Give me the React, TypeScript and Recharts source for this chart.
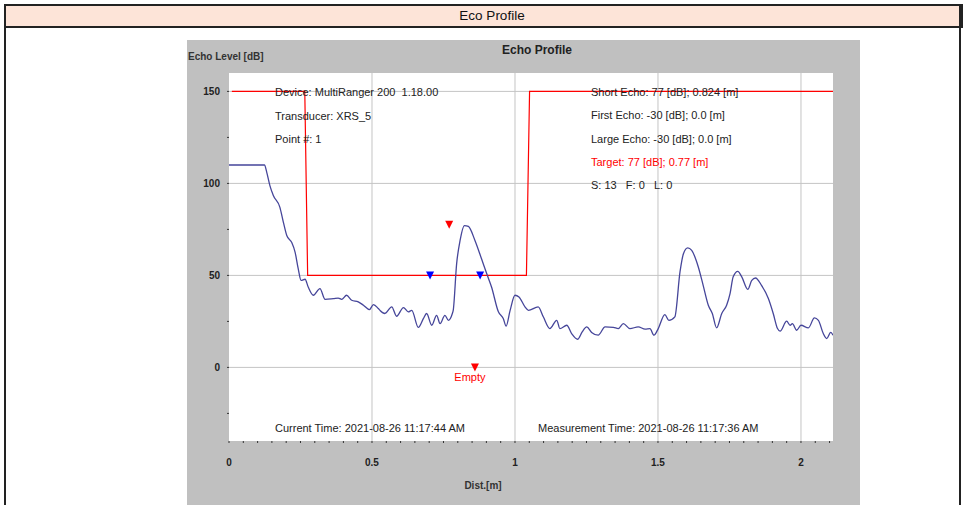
import {
  CartesianGrid,
  ComposedChart,
  Line,
  Scatter,
  XAxis,
  YAxis,
} from "recharts";

const FONT = "'Liberation Sans', Arial, sans-serif";

// echo profile (distance in m, level in dB)
const echoDist = [
  0, 0.124, 0.132, 0.143, 0.155, 0.178, 0.19, 0.202, 0.219, 0.231, 0.242, 0.252,
  0.266, 0.277, 0.295, 0.318, 0.336, 0.365, 0.382, 0.394, 0.411, 0.429, 0.452,
  0.47, 0.491, 0.505, 0.522, 0.528, 0.545, 0.569, 0.586, 0.61, 0.627, 0.639,
  0.662, 0.68, 0.691, 0.709, 0.726, 0.738, 0.755, 0.767, 0.781, 0.784, 0.796,
  0.808, 0.823, 0.837, 0.86, 0.883, 0.901, 0.918, 0.942, 0.959, 0.969, 0.983,
  1.0, 1.014, 1.035, 1.047, 1.081, 1.099, 1.122, 1.146, 1.157, 1.181, 1.198,
  1.219, 1.235, 1.251, 1.268, 1.291, 1.315, 1.344, 1.361, 1.379, 1.402, 1.431,
  1.455, 1.472, 1.486, 1.501, 1.524, 1.538, 1.559, 1.577, 1.589, 1.604, 1.618,
  1.641, 1.658, 1.676, 1.69, 1.705, 1.723, 1.74, 1.752, 1.763, 1.779, 1.793,
  1.814, 1.828, 1.841, 1.862, 1.886, 1.903, 1.918, 1.927, 1.95, 1.962, 1.97,
  1.985, 2.0, 2.026, 2.047, 2.061, 2.078, 2.09, 2.104, 2.112,
];
const echoLevel = [
  110, 110, 106, 98.8, 93.4, 87, 79, 71.7, 68, 62.7, 53.7, 47.3, 47.9, 43.7,
  39.2, 42.8, 37, 37.4, 37.7, 37, 39.2, 36.5, 35.6, 33.8, 31.4, 34.1, 32, 31,
  29.3, 32.9, 27.8, 32.5, 30.2, 31, 21.7, 26.6, 29.3, 22.9, 28.3, 23.8, 28.3,
  25.6, 29.3, 31, 56.4, 69, 77.1, 76.6, 69, 59, 51, 43.7, 30.2, 26.6, 22.4, 31,
  39.2, 38.3, 32.9, 31, 32.9, 27.5, 21.1, 25.6, 21.1, 22.9, 18.4, 15.3, 19.3,
  22, 19, 17.5, 22, 21.8, 21.1, 23.8, 21.1, 22, 20.8, 21.1, 17.5, 21.1, 28.7,
  25.6, 27.5, 51.9, 61.8, 65, 63.6, 54.6, 44.6, 33.8, 29.3, 21.5, 29.3, 33.8,
  40.1, 49.2, 52.2, 49.2, 42.4, 47.3, 48.6, 44.6, 37.4, 29.3, 21.1, 19.7, 25.1,
  22.9, 23.8, 20.2, 22.9, 21.5, 26.9, 25.6, 18.4, 15.7, 19, 17.5,
];

// TVG / threshold curve (red)
const tvgDist = [0.01, 0.265, 0.275, 1.04, 1.051, 2.112];
const tvgLevel = [150, 150, 50, 50, 150, 150];

// markers
const targetDist = [0.77];
const targetLevel = [77.5];
const windowDist = [0.703, 0.878];
const windowLevel = [50, 50];
const emptyDist = [0.86];
const emptyLevel = [0];

const yTicks = [-25, 0, 25, 50, 75, 100, 125, 150];
const yLabels = [0, 50, 100, 150];
const xLabels = [0, 0.5, 1, 1.5, 2];
const xTicks = Array.from({ length: 43 }, (_, i) => Number((i * 0.05).toFixed(2)));

const echoData = echoDist.map((d, i) => ({ d, v: echoLevel[i] }));
const tvgData = tvgDist.map((d, i) => ({ d, v: tvgLevel[i] }));
const targetData = targetDist.map((d, i) => ({ d, v: targetLevel[i] }));
const windowData = windowDist.map((d, i) => ({ d, v: windowLevel[i] }));
const emptyData = emptyDist.map((d, i) => ({ d, v: emptyLevel[i], label: "Empty" }));

const XTick = ({ x, y, payload }: any) =>
  xLabels.includes(payload.value) ? (
    <text x={x} y={y + 21} textAnchor="middle" fontSize={10} fontWeight="bold" fill="#222" fontFamily={FONT}>
      {payload.value}
    </text>
  ) : null;

const YTick = ({ x, y, payload }: any) =>
  yLabels.includes(payload.value) ? (
    <text x={x - 5} y={y + 4} textAnchor="end" fontSize={10} fontWeight="bold" fill="#222" fontFamily={FONT}>
      {payload.value}
    </text>
  ) : null;

const triangle = (color: string) => (props: any) => {
  const { cx, cy, payload } = props;
  return (
    <g>
      <polygon points={`${cx - 4},${cy - 4} ${cx + 4},${cy - 4} ${cx},${cy + 4}`} fill={color} />
      {payload.label ? (
        <text x={cx - 5} y={cy + 14} textAnchor="middle" fontSize={11} fill="#ff0000" fontFamily={FONT}>
          {payload.label}
        </text>
      ) : null}
    </g>
  );
};

const leftInfo = ["Device: MultiRanger 200  1.18.00", "Transducer: XRS_5", "Point #: 1"];
const rightInfo = [
  "Short Echo: 77 [dB]; 0.824 [m]",
  "First Echo: -30 [dB]; 0.0 [m]",
  "Large Echo: -30 [dB]; 0.0 [m]",
  "Target: 77 [dB]; 0.77 [m]",
  "S: 13   F: 0   L: 0",
];

export default function App() {
  return (
    <div
      style={{
        position: "fixed",
        left: 0,
        top: 0,
        width: 964,
        height: 505,
        background: "#fff",
        overflow: "hidden",
        fontFamily: FONT,
      }}
    >
      <div
        style={{
          position: "absolute",
          left: 4,
          top: 4,
          width: 955,
          height: 20,
          background: "#fde4d8",
          border: "2px solid #222",
        }}
      />
      <div style={{ position: "absolute", left: 4, top: 4, width: 2, height: 501, background: "#222" }} />
      <div style={{ position: "absolute", left: 959, top: 4, width: 2, height: 501, background: "#222" }} />

      <div style={{ position: "absolute", left: 187, top: 40, width: 673, height: 465, background: "#c0c0c0" }}>
        <ComposedChart width={673} height={465} margin={{ top: 33, right: 27, bottom: 0, left: 0 }}>
          <CartesianGrid
            fill="#ffffff"
            fillOpacity={1}
            stroke="#c4c4c4"
            horizontalValues={yLabels}
            verticalValues={[0.5, 1, 1.5, 2]}
          />
          <XAxis
            dataKey="d"
            type="number"
            domain={[0, 2.112]}
            ticks={xTicks}
            allowDataOverflow
            height={64}
            axisLine={false}
            tickLine={{ stroke: "#333" }}
            tickSize={2}
            tick={<XTick />}
            interval={0}
          />
          <XAxis
            xAxisId="top"
            orientation="top"
            dataKey="d"
            type="number"
            domain={[0, 2.112]}
            ticks={xTicks}
            allowDataOverflow
            height={0}
            axisLine={false}
            tickLine={{ stroke: "#333" }}
            tickSize={2}
            tick={false}
            interval={0}
          />
          <YAxis
            type="number"
            domain={[-40, 160]}
            ticks={yTicks}
            allowDataOverflow
            width={42}
            axisLine={false}
            tickLine={{ stroke: "#333" }}
            tickSize={2}
            tick={<YTick />}
            interval={0}
          />
          <YAxis
            yAxisId="right"
            orientation="right"
            type="number"
            domain={[-40, 160]}
            ticks={yTicks}
            allowDataOverflow
            width={0}
            axisLine={false}
            tickLine={{ stroke: "#333" }}
            tickSize={2}
            tick={false}
            interval={0}
          />
          <Line data={tvgData} dataKey="v" type="linear" stroke="#ff0000" strokeWidth={1.2} dot={false} isAnimationActive={false} />
          <Line data={echoData} dataKey="v" type="monotone" stroke="#46469a" strokeWidth={1.3} dot={false} isAnimationActive={false} />
          <Scatter data={targetData} dataKey="v" shape={triangle("#ff0000")} isAnimationActive={false} />
          <Scatter data={windowData} dataKey="v" shape={triangle("#0000ff")} isAnimationActive={false} />
          <Scatter data={emptyData} dataKey="v" shape={triangle("#ff0000")} isAnimationActive={false} />
        </ComposedChart>
      </div>

      <svg
        width={964}
        height={505}
        style={{ position: "absolute", left: 0, top: 0, pointerEvents: "none" }}
        fontFamily={FONT}
      >
        <text x={492} y={19.5} textAnchor="middle" fontSize={13.5} fill="#111">
          Eco Profile
        </text>
        <text x={537} y={54} textAnchor="middle" fontSize={12} fontWeight="bold" fill="#222">
          Echo Profile
        </text>
        <text x={188} y={60} fontSize={10} fontWeight="bold" fill="#333">
          Echo Level [dB]
        </text>
        <text x={483} y={489} textAnchor="middle" fontSize={10} fontWeight="bold" fill="#333">
          Dist.[m]
        </text>
        {leftInfo.map((t, i) => (
          <text key={t} x={275} y={96} dy={i * 23.5} fontSize={11} fill="#222" style={{ whiteSpace: "pre" }}>
            {t}
          </text>
        ))}
        {rightInfo.map((t, i) => (
          <text
            key={t}
            x={591}
            y={96}
            dy={i * 23.25}
            fontSize={11}
            fill={t.startsWith("Target") ? "#ff0000" : "#222"}
            style={{ whiteSpace: "pre" }}
          >
            {t}
          </text>
        ))}
        <text x={275} y={432} fontSize={11} fill="#222">
          Current Time: 2021-08-26 11:17:44 AM
        </text>
        <text x={538} y={432} fontSize={11} fill="#222">
          Measurement Time: 2021-08-26 11:17:36 AM
        </text>
      </svg>
    </div>
  );
}
